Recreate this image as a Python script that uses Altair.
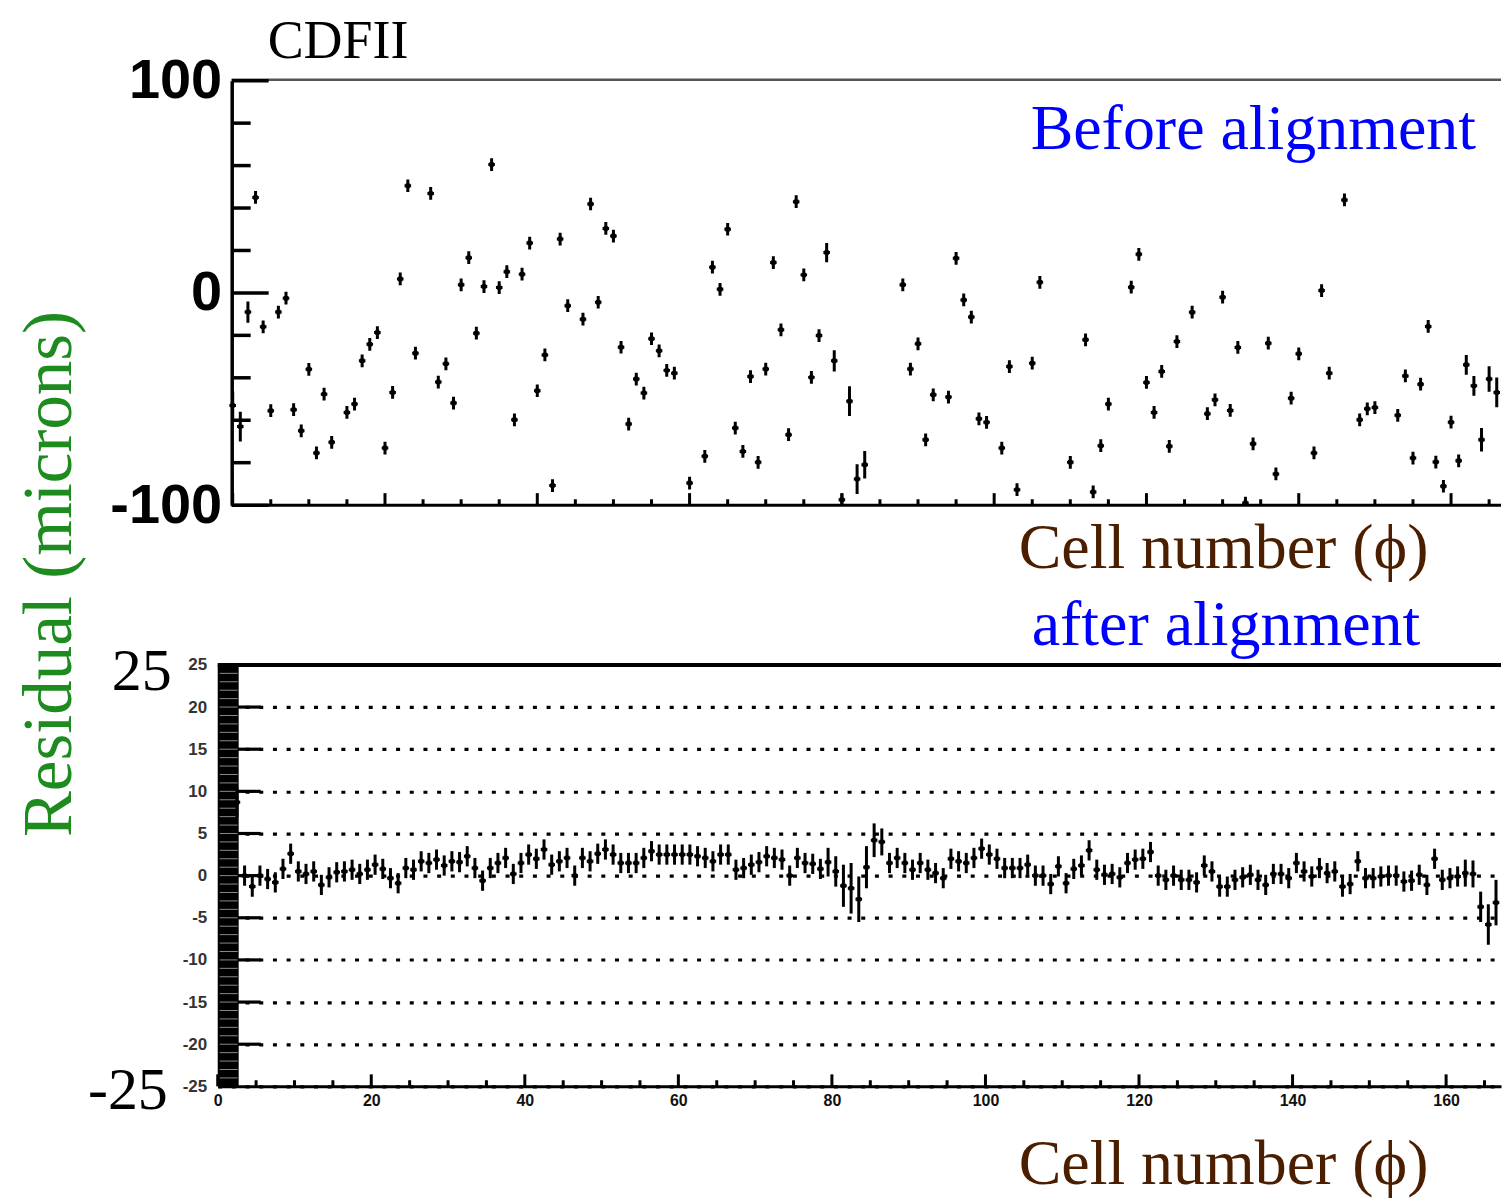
import altair as alt
import pandas as pd

# ---------------- top panel: residuals before alignment (microns) ----------------
top_cell = [0, 1, 2, 3, 4, 5, 6, 7, 8, 9,
            10, 11, 12, 13, 15, 16, 17, 18, 19, 20,
            21, 22, 23, 24, 26, 27, 28, 29, 30, 31,
            32, 33, 34, 35, 36, 37, 38, 39, 40, 41,
            42, 43, 44, 46, 47, 48, 49, 50, 51, 52,
            53, 54, 55, 56, 57, 58, 60, 62, 63, 64,
            65, 66, 67, 68, 69, 70, 71, 72, 73, 74,
            75, 76, 77, 78, 79, 80, 81, 82, 83, 88,
            89, 90, 91, 92, 94, 95, 96, 97, 98, 99,
            101, 102, 103, 105, 106, 110, 112, 113, 114, 115,
            118, 119, 120, 121, 122, 123, 124, 126, 128, 129,
            130, 131, 132, 133, 134, 136, 137, 139, 140, 142,
            143, 144, 146, 148, 149, 150, 153, 154, 155, 156,
            157, 158, 159, 160, 161, 162, 163, 164, 165, 166]
top_res = [-53, -63, -9, 45, -16, -55.5, -9, -2.5, -55, -65,
           -36, -75.4, -47.7, -70.4, -56.3, -52.4, -32, -24.2, -18.7, -73.1,
           -46.9, 6.6, 50.5, -28.4, 46.9, -42, -33.4, -51.9, 3.8, 16.6,
           -19, 3, 60.5, 2.5, 10, -59.8, 8.8, 23.5, -46.1, -29.2,
           -90.8, 25.4, -6, -12.4, 41.9, -4.4, 30.4, 26.8, -25.6, -61.8,
           -40.6, -47.2, -21.6, -27.3, -36.5, -37.8, -89.6, -77, 12.1, 1.7,
           30, -63.7, -74.7, -39.4, -79.8, -35.9, 14.3, -17.4, -66.8, 43,
           8.5, -39.8, -20.1, 19, -32, -97.5, -51, -87.7, -81, 3.8,
           -35.9, -24, -69.2, -48, -49.1, 16.3, -3.3, -11.4, -59.3, -61,
           -73.1, -34.7, -92.7, -33.1, 5, -79.8, -22.1, -93.8, -72, -52.4,
           2.7, 18.2, -42.2, -56.3, -37, -72.3, -22.9, -9.1, -56.9, -50.4,
           -2, -55.4, -25.7, -99, -71.1, -23.7, -85.3, -49.6, -28.7, -75.4,
           1.1, -37.8, 43.8, -59.8, -54.6, -54, -57.7, -39.1, -77.8, -43,
           -15.8, -79.7, -91.1, -60.9, -79.1, -33.9, -43.8, -69.2, -40.6, -46.9]
top_err_default = 3.0
top_err_big = {0: 6.5, 1: 7, 2: 5, 78: 4.5, 79: 5, 81: 7, 82: 7, 83: 6.5,
               162: 4.7, 163: 4.7, 164: 5.5, 165: 6, 166: 7}

# ---------------- bottom panel: residuals after alignment (microns) ----------------
bot_cell = list(range(2, 167))
bot_res = [8.7, 0.0, -1.3, 0.0, -0.4, -0.8, 0.8, 2.6, 0.5, 0.2,
           0.5, -1.1, -0.2, 0.4, 0.5, 0.7, 0.2, 0.7, 1.3, 0.8,
           -0.3, -0.9, 0.9, 0.7, 1.7, 1.5, 1.9, 1.2, 1.7, 1.6,
           2.3, 0.9, -0.6, 0.9, 1.5, 2.1, 0.2, 1.5, 2.5, 2.0,
           3.1, 1.3, 1.7, 2.1, 0.0, 2.1, 1.7, 2.6, 3.1, 2.5,
           1.5, 1.5, 1.5, 2.1, 2.9, 2.5, 2.5, 2.5, 2.5, 2.5,
           2.3, 2.1, 1.7, 2.5, 2.5, 0.7, 0.9, 1.3, 1.6, 2.3,
           2.1, 1.9, 0.0, 2.1, 1.5, 1.4, 0.8, 1.6, 0.5, -1.2,
           -1.5, -2.8, 1.0, 4.2, 4.0, 1.5, 2.1, 1.5, 0.7, 1.5,
           0.7, 0.3, -0.3, 2.0, 1.7, 1.5, 2.1, 3.2, 2.5, 2.0,
           0.9, 0.9, 0.9, 1.3, 0.0, 0.0, -1.0, 1.1, -0.9, 0.8,
           1.2, 3.0, 0.7, 0.1, 0.2, -0.2, 1.5, 1.9, 2.0, 2.8,
           0.0, -0.5, 0.0, -0.5, -0.5, -0.8, 1.2, 0.5, -1.3, -1.3,
           -0.5, -0.2, 0.1, -0.5, -1.1, 0.2, 0.2, -0.3, 1.5, 0.5,
           -0.1, 0.9, 0.3, 0.5, -1.3, -1.0, 1.7, -0.3, -0.3, -0.1,
           0.0, 0.0, -0.7, -0.6, 0.1, -1.1, 2.0, -0.5, -0.3, -0.1,
           0.3, 0.2, -3.7, -5.8, -3.2]
bot_err_default = 1.2
bot_err_big = {2: 1.8, 79: 1.7, 80: 1.8, 81: 2.5, 82: 3.0, 83: 2.7, 84: 2.5,
               85: 2.0, 86: 1.6, 162: 1.6, 163: 1.6, 164: 1.8, 165: 2.4, 166: 2.7}

# axis tick values
top_ytick_major = [-100, 0, 100]
top_ytick_minor = [-80, -60, -40, -20, 20, 40, 60, 80]
xtick_major = [0, 20, 40, 60, 80, 100, 120, 140, 160]
xtick_minor = [5, 10, 15, 25, 30, 35, 45, 50, 55, 65, 70, 75, 85, 90, 95,
               105, 110, 115, 125, 130, 135, 145, 150, 155, 165]
bot_ylabels = [-25, -20, -15, -10, -5, 0, 5, 10, 15, 20, 25]
bot_grid = [-20, -15, -10, -5, 0, 5, 10, 15, 20]
band_lines = list(range(-24, 25))

# ---------------- frames ----------------
HALF = 0.43
top_df = pd.DataFrame({"cell": top_cell, "res": top_res})
top_df["err"] = [top_err_big.get(c, top_err_default) for c in top_cell]
top_df["x"] = top_df["cell"]
top_df["lo"] = top_df["res"] - top_df["err"]
top_df["hi"] = top_df["res"] + top_df["err"]
top_df["xl"] = top_df["x"] - HALF
top_df["xr"] = top_df["x"] + HALF

bot_df = pd.DataFrame({"cell": bot_cell, "res": bot_res})
bot_df["err"] = [bot_err_big.get(c, bot_err_default) for c in bot_cell]
bot_df["x"] = bot_df["cell"] + 0.5
bot_df["lo"] = bot_df["res"] - bot_df["err"]
bot_df["hi"] = bot_df["res"] + bot_df["err"]
bot_df["xl"] = bot_df["x"] - HALF
bot_df["xr"] = bot_df["x"] + HALF

W = 1285
HT = 425
HB = 422
SERIF = "Liberation Serif"
SANS = "Liberation Sans"
BLUE = "#0000ff"
BROWN = "#4b1e00"
GREEN = "#1d8b1d"
HYPHEN_LABEL = "datum.value < 0 ? '-' + (-datum.value) : '' + datum.value"

xs_top = alt.Scale(domain=[-1.967, 166.56], nice=False, zero=False)
ys_top = alt.Scale(domain=[-100, 100], nice=False, zero=False)
xs_bot = alt.Scale(domain=[0, 167.15], nice=False, zero=False)
ys_bot = alt.Scale(domain=[-25, 25], nice=False, zero=False)

top_yaxis = alt.Axis(values=top_ytick_major, orient="left", offset=-14, title=None,
                     domain=True, domainColor="black", domainWidth=3.5, ticks=False,
                     grid=False, labelFont=SANS, labelFontWeight="bold", labelFontSize=56,
                     labelColor="black", labelPadding=10, labelFlush=False,
                     labelOverlap=False, labelExpr=HYPHEN_LABEL)

bot_xaxis = alt.Axis(values=xtick_major, title=None, domain=True, domainColor="black",
                     domainWidth=3, ticks=False, grid=False, labelFont=SANS,
                     labelFontWeight="bold", labelFontSize=16, labelColor="#111",
                     labelPadding=6, labelFlush=False, labelOverlap=False)
bot_yaxis = alt.Axis(values=bot_ylabels, title=None, domain=False, ticks=False,
                     grid=True, gridColor="black", gridWidth=3.2, gridDash=[4, 9.7],
                     gridOpacity=1, labelFont=SANS, labelFontWeight="bold",
                     labelFontSize=17, labelColor="#333", labelPadding=11,
                     labelFlush=False, labelOverlap=False, labelExpr=HYPHEN_LABEL)


def text_layer(label, x, y, size, color, font=SERIF, angle=0, align="left"):
    return alt.Chart(pd.DataFrame({"t": [label]})).mark_text(
        font=font, fontSize=size, color=color, align=align, baseline="alphabetic",
        angle=angle).encode(text="t:N", x=alt.value(x), y=alt.value(y))


def point_layers(df, xs, ys, xaxis, yaxis):
    vbar = alt.Chart(df).mark_rule(color="black", strokeWidth=3, clip=True).encode(
        x=alt.X("x:Q", scale=xs, axis=xaxis),
        y=alt.Y("lo:Q", scale=ys, axis=yaxis), y2="hi:Q")
    hbar = alt.Chart(df).mark_rule(color="black", strokeWidth=3, clip=True).encode(
        x=alt.X("xl:Q", scale=xs, axis=xaxis), x2="xr:Q",
        y=alt.Y("res:Q", scale=ys, axis=yaxis))
    dot = alt.Chart(df).mark_square(color="black", size=20, opacity=1, clip=True).encode(
        x=alt.X("x:Q", scale=xs, axis=xaxis),
        y=alt.Y("res:Q", scale=ys, axis=yaxis))
    return [vbar, hbar, dot]


# ---------------- top panel ----------------
t_ymaj = alt.Chart(pd.DataFrame({"v": top_ytick_major})).mark_rule(
    color="black", strokeWidth=3.5).encode(
    y=alt.Y("v:Q", scale=ys_top, axis=top_yaxis), x=alt.value(14), x2=alt.value(51))
t_ymin = alt.Chart(pd.DataFrame({"v": top_ytick_minor})).mark_rule(
    color="black", strokeWidth=3.5).encode(
    y=alt.Y("v:Q", scale=ys_top, axis=top_yaxis), x=alt.value(14), x2=alt.value(33))
t_xmaj = alt.Chart(pd.DataFrame({"c": xtick_major})).mark_rule(
    color="black", strokeWidth=3).encode(
    x=alt.X("c:Q", scale=xs_top, axis=None), y=alt.value(HT), y2=alt.value(HT - 12))
t_xmin = alt.Chart(pd.DataFrame({"c": xtick_minor})).mark_rule(
    color="black", strokeWidth=3, clip=True).encode(
    x=alt.X("c:Q", scale=xs_top, axis=None), y=alt.value(HT), y2=alt.value(HT - 6))
t_frame_top = alt.Chart(pd.DataFrame({"k": [0]})).mark_rule(
    color="#555", strokeWidth=2.5).encode(
    x=alt.value(14), x2=alt.value(W), y=alt.value(-1))
t_frame_bot = alt.Chart(pd.DataFrame({"k": [0]})).mark_rule(
    color="black", strokeWidth=3).encode(
    x=alt.value(14), x2=alt.value(W), y=alt.value(HT))
# white anchor fixing the top-left corner of the page layout
t_anchor = alt.Chart(pd.DataFrame({"k": [0]})).mark_rule(
    color="white", strokeWidth=1).encode(
    x=alt.value(-209.5), y=alt.value(-71.5), y2=alt.value(-70.5))

top_layers = [t_anchor, t_frame_top, t_frame_bot, t_ymaj, t_ymin, t_xmaj, t_xmin]
top_layers += point_layers(top_df, xs_top, ys_top, None, top_yaxis)
top_layers += [
    text_layer("CDFII", 50, -23, 54, "black"),
    text_layer("Before alignment", 814, 68, 64, BLUE),
    text_layer("Cell number (ϕ)", 802, 488, 64, BROWN),
    text_layer("Residual (microns)", -147, 494, 69, GREEN, angle=270, align="center"),
]
top = alt.layer(*top_layers).properties(width=W, height=HT)

# ---------------- bottom panel ----------------
b_band = alt.Chart(pd.DataFrame({"k": [0]})).mark_rect(color="black").encode(
    x=alt.value(0), x2=alt.value(21), y=alt.value(0), y2=alt.value(HB))
b_band_lines = alt.Chart(pd.DataFrame({"v": band_lines})).mark_rule(
    color="#8a8a8a", strokeWidth=1).encode(
    y=alt.Y("v:Q", scale=ys_bot, axis=bot_yaxis), x=alt.value(2), x2=alt.value(20))
b_ytick = alt.Chart(pd.DataFrame({"v": bot_grid})).mark_rule(
    color="black", strokeWidth=3.2).encode(
    y=alt.Y("v:Q", scale=ys_bot, axis=bot_yaxis), x=alt.value(20), x2=alt.value(43))
b_xmaj = alt.Chart(pd.DataFrame({"c": xtick_major})).mark_rule(
    color="black", strokeWidth=3).encode(
    x=alt.X("c:Q", scale=xs_bot, axis=bot_xaxis), y=alt.value(HB), y2=alt.value(HB - 12))
b_xmin = alt.Chart(pd.DataFrame({"c": xtick_minor})).mark_rule(
    color="black", strokeWidth=3, clip=True).encode(
    x=alt.X("c:Q", scale=xs_bot, axis=bot_xaxis), y=alt.value(HB), y2=alt.value(HB - 6))
b_frame_top = alt.Chart(pd.DataFrame({"k": [0]})).mark_rule(
    color="black", strokeWidth=4).encode(
    x=alt.value(0), x2=alt.value(W), y=alt.value(0))

bot_layers = [b_band, b_band_lines, b_ytick, b_xmaj, b_xmin, b_frame_top]
bot_layers += point_layers(bot_df, xs_bot, ys_bot, bot_xaxis, bot_yaxis)
bot_layers += [
    text_layer("25", -46, 25, 60, "black", align="right"),
    text_layer("-25", -50, 445, 60, "black", align="right"),
    text_layer("after alignment", 815, -20, 64, BLUE),
    text_layer("Cell number (ϕ)", 802, 520, 64, BROWN),
]
bottom = alt.layer(*bot_layers).properties(width=W, height=HB)

chart = alt.vconcat(top, bottom, spacing=160, bounds="flush").properties(
    padding=0, background="white"
).configure_view(stroke=None)

chart.save("out.html", embed_options={"renderer": "svg", "actions": False})
